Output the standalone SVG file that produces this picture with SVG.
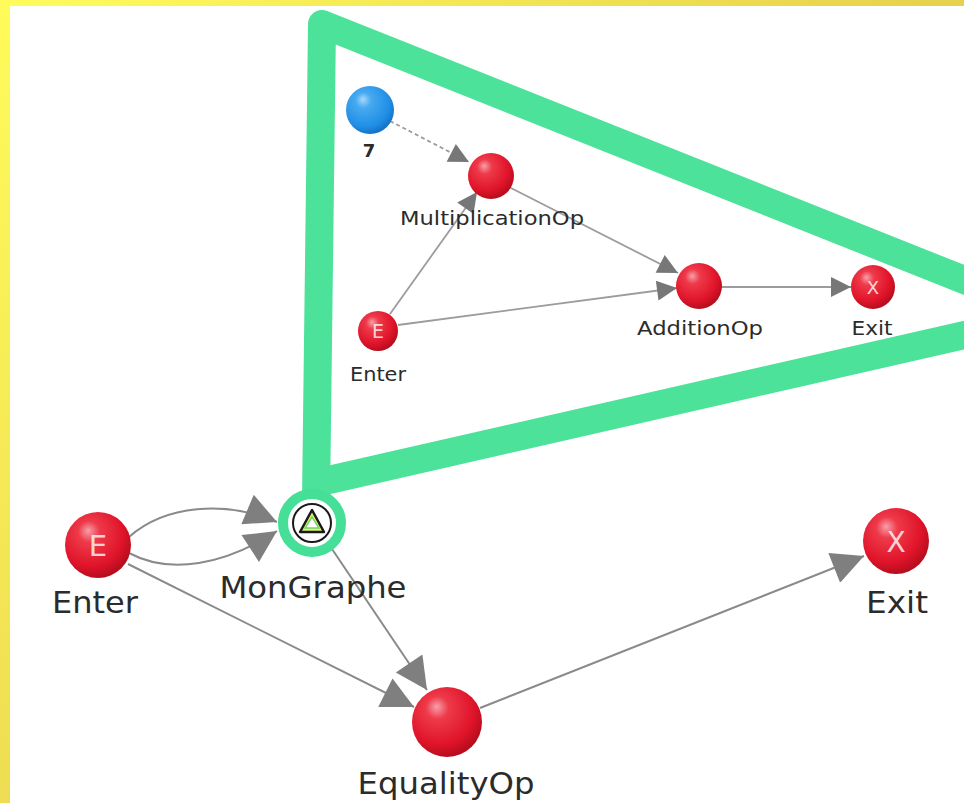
<svg xmlns="http://www.w3.org/2000/svg" width="964" height="803" viewBox="0 0 964 803">
  <defs>
    <radialGradient id="redBall" cx="0.4" cy="0.35" r="0.65" fx="0.35" fy="0.28">
      <stop offset="0" stop-color="#f6a0a8"/>
      <stop offset="0.25" stop-color="#ee3a4a"/>
      <stop offset="0.75" stop-color="#e0142a"/>
      <stop offset="1" stop-color="#b80d1e"/>
    </radialGradient>
    <radialGradient id="blueBall" cx="0.4" cy="0.35" r="0.65" fx="0.35" fy="0.28">
      <stop offset="0" stop-color="#a8d8fb"/>
      <stop offset="0.25" stop-color="#48aaf0"/>
      <stop offset="0.8" stop-color="#1e8ee6"/>
      <stop offset="1" stop-color="#1574c4"/>
    </radialGradient>
    <linearGradient id="frameTop" x1="0" y1="0" x2="1" y2="0">
      <stop offset="0" stop-color="#fffc5c"/>
      <stop offset="1" stop-color="#e6d04c"/>
    </linearGradient>
    <linearGradient id="frameLeft" x1="0" y1="0" x2="0" y2="1">
      <stop offset="0" stop-color="#fffb5a"/>
      <stop offset="1" stop-color="#eedd52"/>
    </linearGradient>
    <marker id="arrowOuter" viewBox="0 0 10 10" refX="10" refY="5" markerWidth="38" markerHeight="32" markerUnits="userSpaceOnUse" orient="auto">
      <path d="M0,0 L10,5 L0,10 z" fill="#7f7f7f"/>
    </marker>
    <marker id="arrowSmall" viewBox="0 0 10 10" refX="10" refY="5" markerWidth="26" markerHeight="20" markerUnits="userSpaceOnUse" orient="auto">
      <path d="M0,0 L10,5 L0,10 z" fill="#777"/>
    </marker>
  </defs>
  <style>
    .lbl { font-family: "DejaVu Sans", "Liberation Sans", sans-serif; fill: #2b2b2b; text-anchor: middle; }
    .big { font-size: 31px; }
    .small { font-size: 20px; }
    .glyph { font-family: "DejaVu Sans", "Liberation Sans", sans-serif; fill: #ffffff; fill-opacity: 0.8; text-anchor: middle; }
    .edgeOuter { fill: none; stroke: #8a8a8a; stroke-width: 2; }
    .edgeInner { fill: none; stroke: #9c9c9c; stroke-width: 1.8; }
    .dashed { stroke-dasharray: 4 3; }
    .frame { fill: none; stroke: #4de29a; stroke-width: 28; stroke-linejoin: round; }
  </style>

  <!-- page background with yellow frame -->
  <rect x="0" y="0" width="964" height="803" fill="#ffffff"/>
  <rect x="0" y="0" width="964" height="6" fill="url(#frameTop)"/>
  <rect x="0" y="0" width="10" height="803" fill="url(#frameLeft)"/>

  <!-- expanded sub-graph outline -->
  <g id="subgraph-frame">
    <path class="frame" d="M316,500 L322,24 L1052,315 L320,482"/>
  </g>

  <!-- connectors -->
  <g id="connectors">
    <!-- inner graph -->
    <line class="edgeInner dashed" x1="390" y1="121" x2="469" y2="162" marker-end="url(#arrowSmall)"/>
    <line class="edgeInner" x1="390" y1="314" x2="477" y2="192" marker-end="url(#arrowSmall)"/>
    <line class="edgeInner" x1="509" y1="187" x2="678" y2="273" marker-end="url(#arrowSmall)"/>
    <line class="edgeInner" x1="398" y1="325" x2="677" y2="288" marker-end="url(#arrowSmall)"/>
    <line class="edgeInner" x1="721" y1="287" x2="851" y2="287" marker-end="url(#arrowSmall)"/>
    <!-- outer graph -->
    <path class="edgeOuter" d="M129,537 C165,505 225,500 277,522" marker-end="url(#arrowOuter)"/>
    <path class="edgeOuter" d="M129,553 C170,575 225,565 277,531" marker-end="url(#arrowOuter)"/>
    <line class="edgeOuter" x1="128" y1="564" x2="414" y2="707" marker-end="url(#arrowOuter)"/>
    <line class="edgeOuter" x1="332" y1="549" x2="427" y2="690" marker-end="url(#arrowOuter)"/>
    <line class="edgeOuter" x1="480" y1="708" x2="864" y2="556" marker-end="url(#arrowOuter)"/>
  </g>

  <!-- inner graph nodes -->
  <g id="inner-const-7">
    <circle cx="370" cy="110" r="24" fill="url(#blueBall)"/>
    <text class="lbl" x="369" y="157" font-size="18" font-weight="bold">7</text>
  </g>
  <g id="inner-multiplication">
    <circle cx="491" cy="176" r="23" fill="url(#redBall)"/>
    <text class="lbl small" x="492" y="225" textLength="184" lengthAdjust="spacingAndGlyphs">MultiplicationOp</text>
  </g>
  <g id="inner-enter">
    <circle cx="378" cy="331" r="20" fill="url(#redBall)"/>
    <text class="glyph" x="378" y="338" font-size="19">E</text>
    <text class="lbl small" x="378" y="381" textLength="56" lengthAdjust="spacingAndGlyphs">Enter</text>
  </g>
  <g id="inner-addition">
    <circle cx="699" cy="286" r="23" fill="url(#redBall)"/>
    <text class="lbl small" x="700" y="335" textLength="126" lengthAdjust="spacingAndGlyphs">AdditionOp</text>
  </g>
  <g id="inner-exit">
    <circle cx="873" cy="287" r="22" fill="url(#redBall)"/>
    <text class="glyph" x="873" y="294" font-size="18">X</text>
    <text class="lbl small" x="872" y="335" textLength="41" lengthAdjust="spacingAndGlyphs">Exit</text>
  </g>

  <!-- outer graph nodes -->
  <g id="enter">
    <circle cx="98" cy="545" r="33" fill="url(#redBall)"/>
    <text class="glyph" x="98" y="556" font-size="29">E</text>
    <text class="lbl big" x="95" y="613" textLength="86" lengthAdjust="spacingAndGlyphs">Enter</text>
  </g>
  <g id="mongraphe">
    <circle cx="312" cy="523" r="29" fill="#ffffff" stroke="#45df97" stroke-width="10"/>
    <circle cx="312" cy="523" r="19" fill="#ffffff" stroke="#1a1a1a" stroke-width="2"/>
    <path d="M312,510 L300,532 L324,532 z" fill="#e2f26a" stroke="#1a1a1a" stroke-width="2.5" stroke-linejoin="round"/>
    <path d="M312,517 L305,528 L319,528 z" fill="#ffffff" stroke="#6fd86b" stroke-width="1.5"/>
    <text class="lbl big" x="313" y="598" textLength="187" lengthAdjust="spacingAndGlyphs">MonGraphe</text>
  </g>
  <g id="equalityop">
    <circle cx="447" cy="722" r="35" fill="url(#redBall)"/>
    <text class="lbl big" x="446" y="794" textLength="177" lengthAdjust="spacingAndGlyphs">EqualityOp</text>
  </g>
  <g id="exit">
    <circle cx="896" cy="541" r="33" fill="url(#redBall)"/>
    <text class="glyph" x="896" y="552" font-size="28">X</text>
    <text class="lbl big" x="897" y="613" textLength="62" lengthAdjust="spacingAndGlyphs">Exit</text>
  </g>
</svg>
